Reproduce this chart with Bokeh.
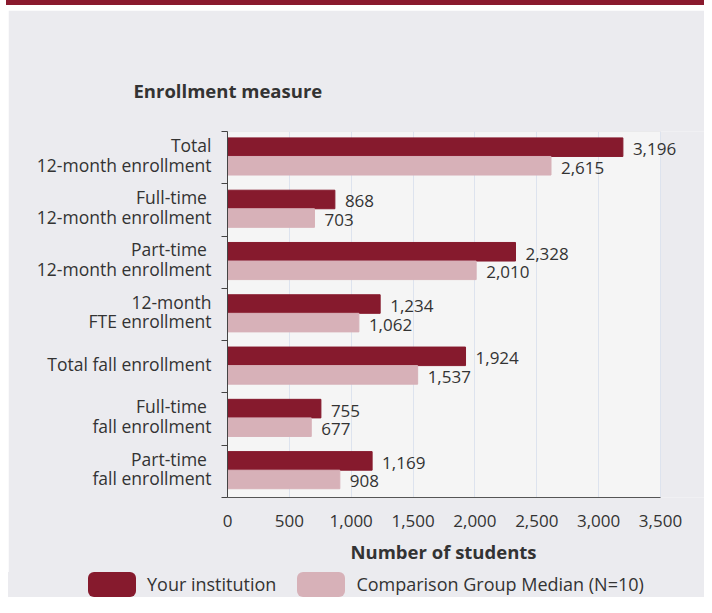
from bokeh.plotting import figure
from bokeh.models import (Range1d, FixedTicker, NumeralTickFormatter,
                          ColumnDataSource, Title, Div, LabelSet, BoxAnnotation)
from bokeh.layouts import column
from bokeh.embed import file_html
from bokeh.resources import INLINE
from bokeh.core.properties import value

# ---- data ----
categories = [
    "Total\n12-month enrollment",
    "Full-time \n12-month enrollment",
    "Part-time \n12-month enrollment",
    "12-month\nFTE enrollment",
    "Total fall enrollment",
    "Full-time \nfall enrollment",
    "Part-time \nfall enrollment",
]
institution = [3196, 868, 2328, 1234, 1924, 755, 1169]
comparison = [2615, 703, 2010, 1062, 1537, 677, 908]
x_ticks = [0, 500, 1000, 1500, 2000, 2500, 3000, 3500]
series_names = ["Your institution", "Comparison Group Median (N=10)"]
y_title = "Enrollment measure"
x_title = "Number of students"

# ---- styling ----
DARK = "#861a2d"
LIGHT = "#d7b1b8"
PANEL = "#ebebef"
PLOTBG = "#f5f5f5"
TEXT = "#333333"
FONT = "Open Sans"

FIG_W = 696
BORDER_L = 219
FRAME_W_DATA = 433          # pixel width of the 0..3500 area
frame_w = FIG_W - BORDER_L  # frame extends to the figure's right edge (labels not clipped)
x_end = x_ticks[-1] * frame_w / FRAME_W_DATA

n = len(categories)
centers = [n - i - 0.5 for i in range(n)]
label_pos = [c + 0.057 for c in centers]
boundaries = [float(i) for i in range(n + 1)]
dark_y = [c + 0.2 for c in centers]
light_y = [c - 0.155 for c in centers]
bar_h = 0.355

src_a = ColumnDataSource(dict(y=dark_y, v=institution, t=[f"{v:,}" for v in institution]))
src_b = ColumnDataSource(dict(y=light_y, v=comparison, t=[f"{v:,}" for v in comparison]))

p = figure(width=FIG_W, height=562, margin=(0, 0, 0, 8),
           x_range=Range1d(0, x_end), y_range=Range1d(0, n),
           output_backend="svg", toolbar_location=None,
           min_border_left=BORDER_L, min_border_right=0,
           min_border_top=121, min_border_bottom=75,
           background_fill_color=PANEL, border_fill_color=PANEL,
           outline_line_color=None)

p.add_layout(BoxAnnotation(left=0, right=x_ticks[-1], bottom=0, top=n,
                           fill_color=PLOTBG, fill_alpha=1.0,
                           line_color="#e2e2e2", line_alpha=1.0, level="image"))

r1 = p.hbar(y="y", left=0, right="v", height=bar_h, source=src_a,
            fill_color=DARK, line_color=DARK)
r2 = p.hbar(y="y", left=0, right="v", height=bar_h, source=src_b,
            fill_color=LIGHT, line_color=LIGHT)

for src in (src_a, src_b):
    p.add_layout(LabelSet(x="v", y="y", text="t", source=src, x_offset=10, y_offset=-2,
                          text_baseline="middle", text_align="left",
                          text_font=value(FONT), text_font_size="17px", text_color=TEXT))

# x axis
p.xaxis.ticker = FixedTicker(ticks=x_ticks)
p.xaxis.formatter = NumeralTickFormatter(format="0,0")
p.xaxis.bounds = (x_ticks[0], x_ticks[-1])
p.xaxis.major_tick_out = 0
p.xaxis.major_tick_in = 0
p.xaxis.minor_tick_out = 0
p.xaxis.minor_tick_in = 0
p.xaxis.axis_line_color = "#555555"
p.xaxis.major_label_standoff = 17
p.xaxis.major_label_text_font = FONT
p.xaxis.major_label_text_font_size = "17px"
p.xaxis.major_label_text_color = TEXT

# x axis title, centred under the 0..3500 area
p.add_layout(Title(text=x_title, align="left", offset=123, standoff=14,
                   text_font=FONT, text_font_size="18.5px", text_font_style="bold",
                   text_color=TEXT), "below")

# y axis
p.yaxis.ticker = FixedTicker(ticks=label_pos, minor_ticks=boundaries)
p.yaxis.major_label_overrides = {c: lab for c, lab in zip(label_pos, categories)}
p.yaxis.major_tick_out = 0
p.yaxis.major_tick_in = 0
p.yaxis.minor_tick_out = 6
p.yaxis.minor_tick_in = 0
p.yaxis.minor_tick_line_color = "#444444"
p.yaxis.axis_line_color = "#444444"
p.yaxis.major_label_standoff = 10
p.yaxis.major_label_text_font = FONT
p.yaxis.major_label_text_font_size = "17.5px"
p.yaxis.major_label_text_color = TEXT
p.yaxis.major_label_text_line_height = 0.82

# grid
p.xgrid.ticker = FixedTicker(ticks=x_ticks)
p.xgrid.grid_line_color = "#dde3ee"
p.ygrid.visible = False

# heading above the category axis
p.title = Title(text=y_title, align="left", offset=-94, standoff=58,
                text_font=FONT, text_font_size="18.5px", text_font_style="bold",
                text_color=TEXT)

# ---- legend row (HTML, real text) ----
series_colors = [DARK, LIGHT]
parts = []
for i, (name, col) in enumerate(zip(series_names, series_colors)):
    ml = "0" if i == 0 else "21px"
    parts.append(
        f'<span style="display:inline-block;width:48px;height:25px;background:{col};'
        f'border-radius:6px;margin-left:{ml};margin-right:11px;flex:none"></span>'
        f'<span style="white-space:nowrap">{name}</span>')
legend_html = (
    f'<div style="display:flex;align-items:center;height:25px;padding-left:80px;'
    f'font-family:\'{FONT}\';font-size:18px;color:{TEXT};line-height:25px">'
    + "".join(parts) + "</div>")
legend_div = Div(text=legend_html, width=FIG_W, height=25, margin=(0, 0, 0, 8),
                 styles={"background-color": PANEL})

strip = Div(text="", width=698, height=5, margin=(0, 0, 5, 6),
            styles={"background-color": "#8a1a2e"})
layout = column(strip, p, legend_div, spacing=0)

open("out.html", "w").write(file_html(layout, INLINE))
